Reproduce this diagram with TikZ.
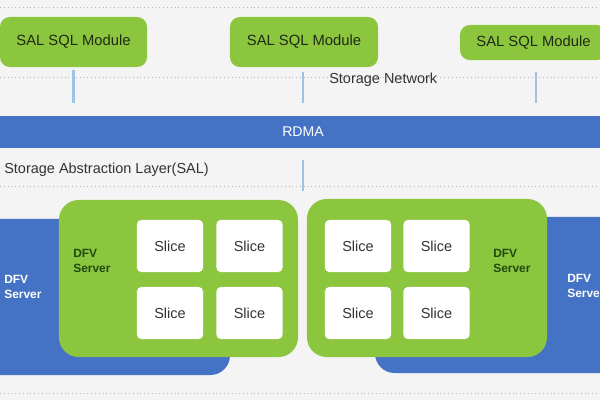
\documentclass[tikz,border=0pt]{standalone}
\usepackage{fontspec}
\setmainfont{Liberation Sans}
\usetikzlibrary{positioning}
\definecolor{salGreen}{HTML}{8CC63F}
\definecolor{salText}{HTML}{1F2A14}
\definecolor{dfvGreenText}{HTML}{1E4A0E}
\definecolor{rdmaBlue}{HTML}{4472C4}
\definecolor{linkBlue}{HTML}{9DC3E6}
\definecolor{bgGray}{HTML}{F4F4F4}
\definecolor{dotGray}{HTML}{B8B8B8}
\definecolor{sliceText}{HTML}{333333}

\begin{document}
\begin{tikzpicture}[x=0.025cm, y=-0.025cm,
  every node/.style={inner sep=0pt, align=left},
  sqlModule/.style={fill=salGreen, rounded corners=7pt, text=salText,
                    font=\fontsize{10.5}{12}\selectfont},
  rdmaBar/.style={fill=rdmaBlue, text=white, minimum width=15.5cm,
                  minimum height=0.8cm, font=\fontsize{10}{12}\selectfont},
  dfvBlue/.style={fill=rdmaBlue, rounded corners=14pt},
  dfvGreen/.style={fill=salGreen, rounded corners=14pt},
  sliceBox/.style={fill=white, rounded corners=3pt, minimum width=1.65cm,
                   minimum height=1.3cm, text=sliceText, font=\fontsize{10.3}{12}\selectfont},
  dfvLabel/.style={font=\fontsize{8.5}{10.5}\selectfont\bfseries},
  layerText/.style={anchor=west, text=sliceText, font=\fontsize{10.3}{12}\selectfont},
  sepLine/.style={draw=dotGray, line width=0.7pt, dotted},
  link/.style={draw=linkBlue, line width=2pt}]
  \useasboundingbox (0,0) rectangle (600,400);
  \clip (0,0) rectangle (600,400);
  \fill[bgGray] (0,0) rectangle (600,400);

  % separators
  \draw[sepLine] (0,7) -- (600,7);
  \draw[sepLine] (0,77) -- (600,77);
  \draw[sepLine] (0,186) -- (600,186);
  \draw[sepLine] (0,393) -- (600,393);

  % SQL layer
  \node[sqlModule, minimum width=3.675cm, minimum height=1.25cm] (mod1) at (73.5,42) {SAL SQL Module};
  \node[sqlModule, minimum width=3.7cm, minimum height=1.25cm] (mod2) at (304,42) {SAL SQL Module};
  \node[sqlModule, minimum width=3.675cm, minimum height=0.875cm] (mod3) at (533.5,42.5) {SAL SQL Module};
  \node[layerText] (netLabel) at (329,80) {Storage Network};

  % network
  \node[rdmaBar] (rdma) at (303,132) {RDMA};
  \node[layerText] (salLabel) at (4,170) {Storage Abstraction Layer(SAL)};

  \draw[link, shorten <=2pt, shorten >=9pt] (mod1.south) -- (mod1.south |- rdma.north);
  \draw[link, shorten <=3.5pt, shorten >=9pt] (mod2.south -| rdma.north) coordinate (tap2) (tap2) -- (tap2 |- rdma.north);
  \draw[link, shorten <=8.5pt, shorten >=9pt] (536,60) coordinate (tap3) -- (tap3 |- rdma.north);
  \coordinate (salTap) at (303,191);
  \draw[link, shorten <=8.5pt] (salTap |- rdma.south) -- (salTap);

  % DFV servers
  \node[dfvBlue, minimum width=6.5cm, minimum height=3.9cm] (dfvL) at (100,297) {};
  \node[dfvBlue, minimum width=6.625cm, minimum height=3.9cm] (dfvR) at (507.5,295) {};
  \node[dfvGreen, minimum width=5.975cm, minimum height=3.925cm] (dfvLg) at (178.5,278.5) {};
  \node[dfvGreen, minimum width=6cm, minimum height=3.95cm] (dfvRg) at (427,278) {};

  \node[dfvLabel, text=white, anchor=west] (dfvLtxt) at (4,287) {DFV\\Server};
  \node[dfvLabel, text=white, anchor=west] (dfvRtxt) at (567,286) {DFV\\Server};
  \node[dfvLabel, text=dfvGreenText, anchor=west] (dfvLgtxt) at (73,261) {DFV\\Server};
  \node[dfvLabel, text=dfvGreenText, anchor=west] (dfvRgtxt) at (493,261) {DFV\\Server};

  % slices
  \node[sliceBox] (sliceLa) at (170,246) {Slice};
  \node[sliceBox] (sliceLb) at (249.5,246) {Slice};
  \node[sliceBox] (sliceLc) at (170,313) {Slice};
  \node[sliceBox] (sliceLd) at (249.5,313) {Slice};
  \node[sliceBox] (sliceRa) at (358,246) {Slice};
  \node[sliceBox] (sliceRb) at (436.5,246) {Slice};
  \node[sliceBox] (sliceRc) at (358,313) {Slice};
  \node[sliceBox] (sliceRd) at (436.5,313) {Slice};
\end{tikzpicture}
\end{document}
